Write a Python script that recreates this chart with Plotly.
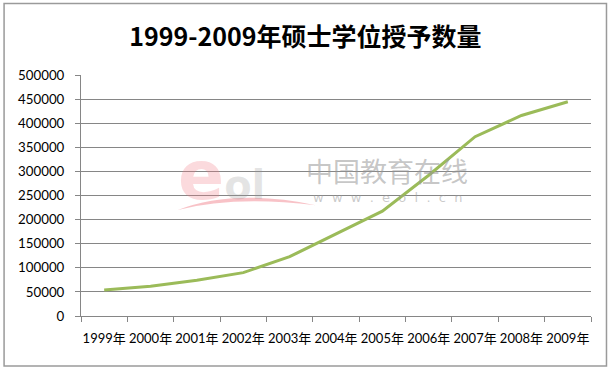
import plotly.graph_objects as go

years = ["1999年", "2000年", "2001年", "2002年", "2003年", "2004年",
         "2005年", "2006年", "2007年", "2008年", "2009年"]
degrees = [54000, 61500, 74000, 90000, 123000, 171000,
           217500, 292000, 372000, 416000, 444500]
y_ticks = list(range(0, 500001, 50000))
title_text = "1999-2009年硕士学位授予数量"

FONT = "Lato, 'Noto Sans CJK SC', sans-serif"

fig = go.Figure()
fig.add_trace(go.Scatter(
    x=years, y=degrees, mode="lines",
    line=dict(color="#9BBB59", width=3),
    hoverinfo="x+y", showlegend=False,
))

# watermark
fig.add_annotation(xref="paper", yref="paper", x=0.6, y=(316-170)/241.3, text="中国教育在线",
                   showarrow=False, font=dict(family="'Noto Sans CJK SC'", size=27, color="rgba(150,150,150,0.55)"))
fig.add_annotation(xref="paper", yref="paper", x=(388-81)/510.5, y=(316-197)/241.3,
                   text="&nbsp;&nbsp;".join(list("www.eol.cn")),
                   showarrow=False, font=dict(family="'DejaVu Sans'", size=13, color="rgba(150,150,150,0.5)"))
fig.add_annotation(xref="paper", yref="paper", x=(176-81)/510.5, y=(316-175)/241.3, xanchor="left",
                   text="<span style='color:rgba(240,120,130,0.55);font-size:68px'><b>e</b></span>"
                        "<span style='color:rgba(150,150,150,0.5)'><b>ol</b></span>",
                   showarrow=False, font=dict(family="'DejaVu Sans'", size=40, color="rgba(150,150,150,0.5)"))
fig.add_shape(type="path", xref="paper", yref="paper",
              path="M 0.19 0.44 Q 0.30 0.53 0.46 0.46 Q 0.30 0.50 0.19 0.44 Z",
              fillcolor="rgba(240,120,130,0.45)", line=dict(width=0))

# outer frame
fig.add_shape(type="rect", xref="paper", yref="paper",
              x0=-77/510.5, x1=(607-81)/510.5, y0=-(366-316)/241.3, y1=(316-3)/241.3,
              line=dict(color="#9a9a9a", width=1.5))

fig.update_layout(
    width=611, height=371,
    margin=dict(l=81, r=19.5, t=74.7, b=55),
    paper_bgcolor="white", plot_bgcolor="white",
    title=dict(text="<b>" + title_text + "</b>", x=0.5, xref="container", xanchor="center",
               y=1 - 37/371, yanchor="middle",
               font=dict(family="'Noto Sans CJK SC', sans-serif", size=25, color="#000")),
    font=dict(family=FONT, size=12, color="#000"),
    xaxis=dict(type="category", showgrid=False, showline=True, linecolor="#868686", linewidth=1,
               ticks="outside", tickson="boundaries", ticklen=5, tickcolor="#868686",
               tickfont=dict(size=13), tickangle=0, ticklabelstandoff=10, range=[-0.5, 10.5]),
    yaxis=dict(range=[0, 500000], tickvals=y_ticks, ticktext=[str(v) for v in y_ticks],
               showgrid=True, gridcolor="#868686", gridwidth=1,
               showline=True, linecolor="#868686", linewidth=1,
               ticks="outside", ticklen=5, tickcolor="#868686", zeroline=False,
               tickfont=dict(size=13.3), ticklabelstandoff=8),
)

fig.write_html("out.html", config={"displayModeBar": False},
               post_script="document.body.style.margin='0';document.body.style.overflow='hidden';")
